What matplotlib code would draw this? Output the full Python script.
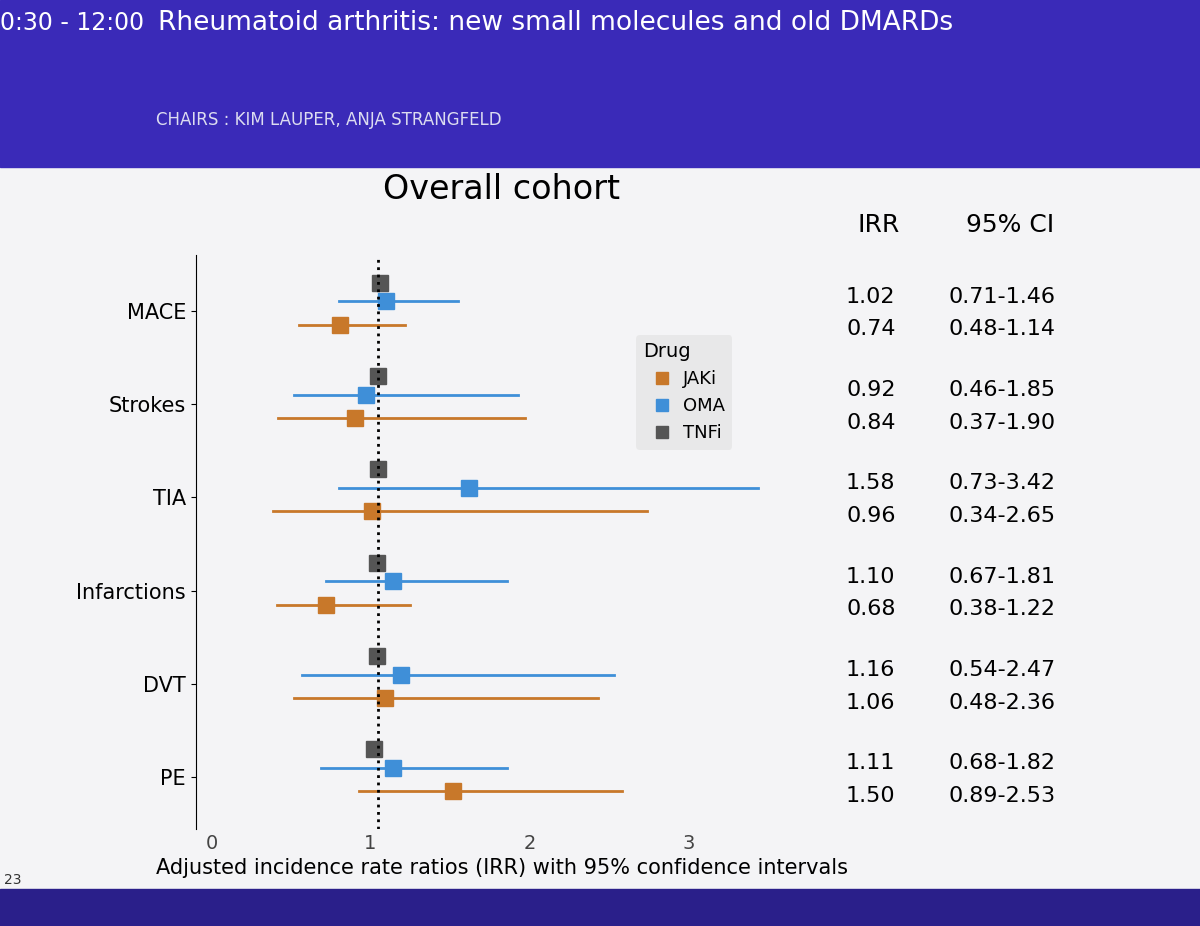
import matplotlib
matplotlib.use("Agg")
import matplotlib.pyplot as plt
from matplotlib.patches import Rectangle
from matplotlib.lines import Line2D
import numpy as np

categories = ["MACE", "Strokes", "TIA", "Infarctions", "DVT", "PE"]
oma_irr = [1.10, 0.97, 1.62, 1.14, 1.19, 1.14]
oma_lo = [0.80, 0.52, 0.80, 0.72, 0.57, 0.69]
oma_hi = [1.55, 1.93, 3.44, 1.86, 2.53, 1.86]
jak_irr = [0.81, 0.90, 1.01, 0.72, 1.09, 1.52]
jak_lo = [0.55, 0.42, 0.39, 0.41, 0.52, 0.93]
jak_hi = [1.22, 1.97, 2.74, 1.25, 2.43, 2.58]
tnf_irr = [1.06, 1.05, 1.05, 1.04, 1.04, 1.02]
irr_text_oma = ["1.02", "0.92", "1.58", "1.10", "1.16", "1.11"]
ci_text_oma = ["0.71-1.46", "0.46-1.85", "0.73-3.42", "0.67-1.81", "0.54-2.47", "0.68-1.82"]
irr_text_jak = ["0.74", "0.84", "0.96", "0.68", "1.06", "1.50"]
ci_text_jak = ["0.48-1.14", "0.37-1.90", "0.34-2.65", "0.38-1.22", "0.48-2.36", "0.89-2.53"]

orange, blue, grey = "#c8782a", "#3f8fd8", "#555555"

fig = plt.figure(figsize=(12, 9.26), dpi=100)
fig.patch.set_facecolor("#f4f4f6")
fig.add_artist(Rectangle((0, 0.82), 1, 0.18, transform=fig.transFigure, color="#3a2ab8", zorder=0))
fig.text(0.0, 0.975, "0:30 - 12:00", color="white", fontsize=17, va="center")
fig.text(0.132, 0.975, "Rheumatoid arthritis: new small molecules and old DMARDs", color="white", fontsize=19, va="center")
fig.text(0.13, 0.87, "CHAIRS : KIM LAUPER, ANJA STRANGFELD", color="#dcdcf0", fontsize=12, va="center")
fig.add_artist(Rectangle((0, 0), 1, 0.04, transform=fig.transFigure, color="#2a1f8a", zorder=0))
fig.text(0.003, 0.045, "23", color="#333", fontsize=10)

ax = fig.add_axes([0.163, 0.105, 0.51, 0.62])
ax.set_facecolor("#f4f4f6")
y = np.arange(len(categories))[::-1] * 1.0
ms = 11
for i, c in enumerate(categories):
    yc = y[i]
    ax.plot([oma_lo[i], oma_hi[i]], [yc + 0.1] * 2, color=blue, lw=2)
    ax.plot(oma_irr[i], yc + 0.1, "s", color=blue, ms=ms)
    ax.plot([jak_lo[i], jak_hi[i]], [yc - 0.15] * 2, color=orange, lw=2)
    ax.plot(jak_irr[i], yc - 0.15, "s", color=orange, ms=ms)
    ax.plot(tnf_irr[i], yc + 0.3, "s", color=grey, ms=ms)
ax.axvline(1.05, color="black", ls=":", lw=2)
ax.set_xlim(-0.1, 3.75)
ax.set_ylim(-0.55, 5.6)
ax.set_yticks(y)
ax.set_yticklabels(categories, fontsize=15)
ax.set_xticks([0, 1, 2, 3])
ax.set_xticklabels(["0", "1", "2", "3"], fontsize=14, color="#444")
ax.set_xlabel("Adjusted incidence rate ratios (IRR) with 95% confidence intervals", fontsize=15)
for s in ["top", "right", "bottom"]:
    ax.spines[s].set_visible(False)
ax.tick_params(axis="x", length=0)
ax.set_title("Overall cohort", fontsize=24, pad=40)

handles = [Line2D([], [], marker="s", ls="", color=col, ms=9) for col in (orange, blue, grey)]
leg = ax.legend(handles, ["JAKi", "OMA", "TNFi"], title="Drug", loc="upper left",
                bbox_to_anchor=(0.72, 0.86), fontsize=13, title_fontsize=14,
                facecolor="#e6e6e6", edgecolor="none", handletextpad=0.2, borderaxespad=0)
leg._legend_box.align = "left"

tr = ax.transData
fig.text(0.715, 0.75, "IRR", fontsize=18)
fig.text(0.805, 0.75, "95% CI", fontsize=18)
for i in range(len(categories)):
    for dy, t1, t2 in [(0.15, irr_text_oma[i], ci_text_oma[i]), (-0.2, irr_text_jak[i], ci_text_jak[i])]:
        yy = fig.transFigure.inverted().transform(tr.transform((0, y[i] + dy)))[1]
        fig.text(0.705, yy, t1, fontsize=16, va="center")
        fig.text(0.79, yy, t2, fontsize=16, va="center")

fig.savefig("out.png", dpi=100, facecolor=fig.get_facecolor())
